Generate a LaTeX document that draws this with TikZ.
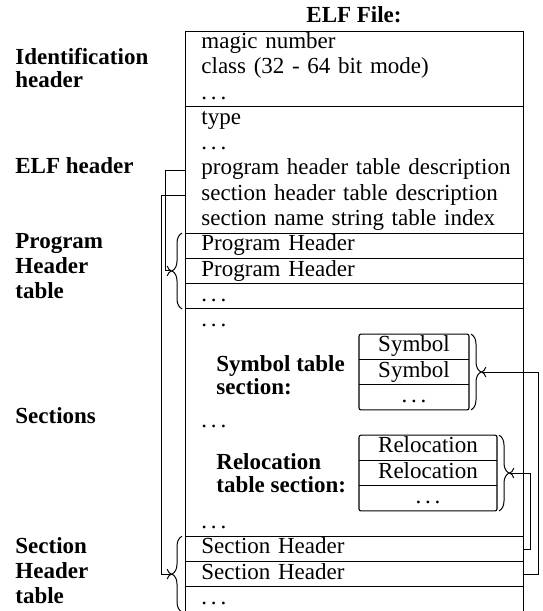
\documentclass[tikz,border=0pt]{standalone}
\usepackage{fontspec}
\setmainfont{Liberation Serif}
\usetikzlibrary{decorations.pathreplacing,arrows.meta}
% spaced ellipsis in the classic LaTeX style
\newcommand\ddd{.\kern.166em.\kern.166em.}

\begin{document}
\begin{tikzpicture}[x=0.5pt,y=0.5pt,
  every node/.style={font=\fontsize{11.5}{12.63}\selectfont},
  frame/.style={line width=0.55pt},
  rowtext/.style={anchor=north west, inner sep=0pt, text width=161pt, align=left,
                  text height=8.63pt, text depth=4pt},
  celltext/.style={anchor=north, inner sep=0pt, text height=8.63pt, text depth=4pt},
  % multi-line labels are placed by the baseline of their last line
  lbl/.style={anchor=base west, inner sep=0pt, align=left,
              font=\bfseries\fontsize{11.5}{12.5}\selectfont},
  lbltight/.style={lbl, font=\bfseries\fontsize{11.5}{11.5}\selectfont},
  brc/.style={line width=0.5pt, decorate, decoration={brace, amplitude=5pt}},
  link/.style={line width=0.5pt, -{To[length=2.6pt,width=5.2pt]}},
]
\useasboundingbox (0,0) rectangle (542,-611);

% title
\node[anchor=base, inner sep=0pt, font=\bfseries\fontsize{11.5}{12.5}\selectfont] (title) at (354,-22) {ELF File:};

% outer frame of the file layout
\node[draw, frame, anchor=north west, inner sep=0pt, minimum width=169pt,
      minimum height=290.49pt] (elf) at (185,-31) {};

% block separators
\foreach \yy in {106.78,233.08,258.34,283.6,308.86,536.2,561.46,586.72}
  \draw[frame] (185,-\yy) -- (523,-\yy);

% identification header
\node[rowtext] (magic)  at (201,-31)     {magic number};
\node[rowtext] (class)  at (201,-56.26)  {class (32 - 64 bit mode)};
\node[rowtext] (iddots) at (201,-81.52)  {\ddd};
% ELF header
\node[rowtext] (type)   at (201,-106.78) {type};
\node[rowtext] (ehdots) at (201,-132.04) {\ddd};
\node[rowtext] (phdesc) at (201,-157.3)  {program header table description};
\node[rowtext] (shdesc) at (201,-182.56) {section header table description};
\node[rowtext] (shstr)  at (201,-207.82) {section name string table index};
% program header table
\node[rowtext] (ph1)    at (201,-233.08) {Program Header};
\node[rowtext] (ph2)    at (201,-258.34) {Program Header};
\node[rowtext] (phdots) at (201,-283.6)  {\ddd};
% sections
\node[rowtext] (secA)   at (201,-308.86) {\ddd};
\node[rowtext] (secB)   at (201,-409.9)  {\ddd};
\node[rowtext] (secC)   at (201,-510.94) {\ddd};
% section header table
\node[rowtext] (sh1)    at (201,-536.2)  {Section Header};
\node[rowtext] (sh2)    at (201,-561.46) {Section Header};
\node[rowtext] (shdots) at (201,-586.72) {\ddd};

% symbol table
\draw[frame, rounded corners=1pt] (359,-334.12) rectangle (469,-409.9);
\draw[frame] (359,-359.38) -- (469,-359.38);
\draw[frame] (359,-384.64) -- (469,-384.64);
\node[celltext] (sym1)    at (414,-334.12) {Symbol};
\node[celltext] (sym2)    at (414,-359.38) {Symbol};
\node[celltext] (symdots) at (414,-384.64) {\ddd};

% relocation table
\draw[frame, rounded corners=1pt] (359,-435.16) rectangle (497,-510.94);
\draw[frame] (359,-460.42) -- (497,-460.42);
\draw[frame] (359,-485.68) -- (497,-485.68);
\node[celltext] (rel1)    at (428,-435.16) {Relocation};
\node[celltext] (rel2)    at (428,-460.42) {Relocation};
\node[celltext] (reldots) at (428,-485.68) {\ddd};

% region labels
\node[lbltight] (lid) at (15,-87) {Identification\\header};
\node[lbl] (lelf) at (15,-173) {ELF header};
\node[lbl] (lpht) at (15,-298) {Program\\Header\\table};
\node[lbl] (lsec) at (15,-423) {Sections};
\node[lbl] (lsht) at (15,-603) {Section\\Header\\table};
\node[lbltight] (lsym) at (216,-394) {Symbol table\\section:};
\node[lbltight] (lrel) at (216,-492) {Relocation\\table section:};

% braces grouping the tables
\draw[brc] (182,-308.86) -- (182,-233.08);
\draw[brc] (182,-611.98) -- (182,-536.2);
\draw[brc] (471,-334.12) -- (471,-409.9);
\draw[brc] (499,-435.16) -- (499,-510.94);
\coordinate (phtip)  at (172,-270.97);
\coordinate (shtip)  at (172,-574.09);
\coordinate (symtip) at (481,-372.01);
\coordinate (reltip) at (509,-473.05);

% references from header fields to the tables they describe
\draw[link] (phdesc.west -| elf.west) -- ++(-19.5,0) |- (phtip);
\draw[link] (shdesc.west -| elf.west) -- ++(-24,0) |- (shtip);
\draw[link] (sh1.east -| elf.east) -- ++(6,0) |- (reltip);
\draw[link] (sh2.east -| elf.east) -- ++(14,0) |- (symtip);
\end{tikzpicture}
\end{document}
